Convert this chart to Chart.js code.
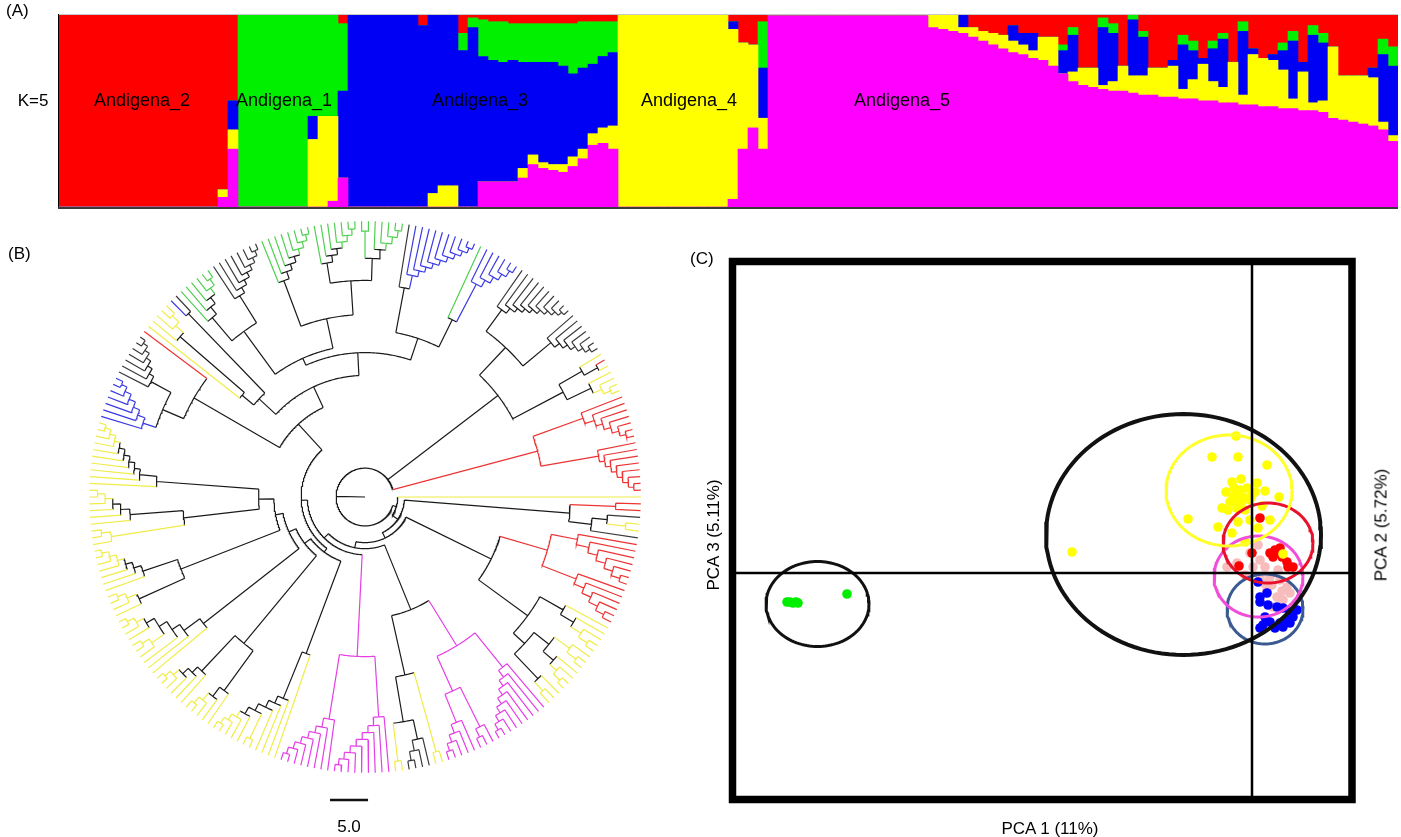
<!DOCTYPE html>
<html>
<head>
<meta charset="utf-8">
<script src="https://cdn.jsdelivr.net/npm/chart.js@4.4.1/dist/chart.umd.min.js"></script>
<style>
  body { margin: 0; background: #fff; }
  #page { position: relative; width: 1401px; height: 837px; overflow: hidden; background: #fff;
          font-family: "Liberation Sans", Arial, sans-serif; color: #000; }
  canvas { position: absolute; }
  .txt { position: absolute; font-size: 17px; line-height: 1; white-space: nowrap; }
  .grp { font-size: 18px; }
  .mid { transform: translate(-50%, -50%); }
  .rot { transform: translate(-50%, -50%) rotate(-90deg); }
</style>
</head>
<body>
<div id="page">
  <canvas id="structure" width="1401" height="215" style="left:0;top:0"></canvas>
  <canvas id="tree" width="700" height="622" style="left:0;top:215px"></canvas>
  <canvas id="pca" width="711" height="597" style="left:690px;top:240px"></canvas>

  <div class="txt" style="left:6px;top:2px">(A)</div>
  <div class="txt mid" style="left:33px;top:100px">K=5</div>
  <div class="txt" style="left:8px;top:245px">(B)</div>
  <div class="txt mid" style="left:349px;top:826px">5.0</div>
  <div class="txt" style="left:690px;top:250px">(C)</div>
  <div class="txt mid" style="left:1050px;top:828px">PCA 1 (11%)</div>
  <div class="txt rot" style="left:713px;top:535px">PCA 3 (5.11%)</div>
  <div class="txt rot" style="left:1381px;top:525px">PCA 2 (5.72%)</div>
</div>

<script>
// ---------- (A) admixture proportions, K=5, one bar per individual block ----------
// stacking order bottom -> top: magenta, yellow, blue, green, red
const structMagenta = [
  0,0,0,0,0,0,0,0,0,0,0,0,0,0,0,0,0.05,0.30,
  0,0,0,0,0,0,0,0,0,0.03,0.15,
  0,0,0,0,0,0,0, 0,0,0,0,0,0, 0.13,0.13,0.13,0.13,0.15,0.22,0.20,0.19,0.18,0.21,0.25,0.32,0.33,0.30,
  0,0,0,0,0,0,0,0,0,0,0,0.04,0.30,0.41,0.30,
  0.99,0.99,0.99,0.99,0.99,0.99,0.99,0.99,0.99,0.99,0.99,0.99,0.99,0.99,0.99,0.99,
  0.93,0.92,0.91,0.90,0.88,0.86,0.84,0.82,0.80,0.79,0.77,0.76,0.73,0.69,0.65,0.63,0.62,0.61,0.60,0.60,
  0.59,0.58,0.58,0.57,0.57,0.56,0.56,0.55,0.55,0.54,0.54,0.53,0.53,0.52,0.52,0.51,0.51,0.50,0.50,0.49,
  0.46,0.45,0.44,0.43,0.42,0.40,0.34
];
const structYellow = [
  0,0,0,0,0,0,0,0,0,0,0,0,0,0,0,0,0.04,0.10,
  0,0,0,0,0,0,0,0.35,0.47,0.44,0,
  0,0,0,0,0,0,0, 0,0.07,0.11,0.11,0,0, 0,0,0,0,0.05,0.05,0.03,0.03,0.04,0.05,0.05,0.06,0.08,0.12,
  1,1,1,1,1,1,1,1,1,1,1,0.88,0.55,0.43,0.16,
  0,0,0,0,0,0,0,0,0,0,0,0,0,0,0,0,
  0.07,0.08,0.09,0.03,0.05,0.05,0.06,0.07,0.06,0.05,0.04,0.12,0.15,0,0.05,0.09,0.10,0.02,0.05,0.13,
  0.09,0.10,0.14,0.15,0.16,0.05,0.10,0.19,0.10,0.08,0.21,0.05,0.26,0.25,0.24,0.20,0.05,0.20,0.04,0.06,
  0.37,0.23,0.24,0.25,0.25,0.04,0.03
];
const structBlue = [
  0,0,0,0,0,0,0,0,0,0,0,0,0,0,0,0,0,0.15,
  0,0,0,0,0,0,0,0.12,0,0,0.45,
  1,1,1,1,1,1,1, 0.94,0.93,0.89,0.89,0.81,0.93, 0.65,0.63,0.62,0.63,0.55,0.48,0.52,0.53,0.51,0.43,0.42,0.36,0.37,0.38,
  0,0,0,0,0,0,0,0,0,0,0,0.04,0,0,0.26,
  0,0,0,0,0,0,0,0,0,0,0,0,0,0,0,0,
  0,0,0,0.07,0,0,0,0,0.08,0.06,0.09,0,0,0.12,0.19,0,0,0.30,0.25,0,
  0.29,0.20,0,0,0.03,0.23,0.15,0.03,0.17,0.25,0,0.33,0.03,0,0.03,0.10,0.30,0.05,0.35,0.30,
  0,0,0,0,0.05,0.35,0.36
];
const structGreen = [
  0,0,0,0,0,0,0,0,0,0,0,0,0,0,0,0,0,0,
  1,1,1,1,1,1,1,0.53,0.53,0.53,0.35,
  0,0,0,0,0,0,0, 0,0,0,0,0.09,0.05, 0.19,0.20,0.21,0.19,0.20,0.20,0.20,0.20,0.22,0.26,0.24,0.22,0.18,0.16,
  0,0,0,0,0,0,0,0,0,0,0,0,0,0,0.24,
  0,0,0,0,0,0,0,0,0,0,0,0,0,0,0,0,
  0,0,0,0,0,0,0,0,0,0,0,0,0,0.03,0.04,0,0,0.05,0.05,0,
  0.03,0.03,0,0,0,0.05,0.05,0,0.04,0.03,0,0.05,0,0,0,0.04,0.05,0,0.05,0.05,
  0,0,0,0,0,0.08,0.10
];
const structRed = [
  1,1,1,1,1,1,1,1,1,1,1,1,1,1,1,1,0.91,0.45,
  0,0,0,0,0,0,0,0,0,0,0.05,
  0,0,0,0,0,0,0, 0.06,0,0,0,0.10,0.02, 0.03,0.04,0.04,0.05,0.05,0.05,0.05,0.05,0.05,0.05,0.04,0.04,0.04,0.04,
  0,0,0,0,0,0,0,0,0,0,0,0.04,0.15,0.16,0.04,
  0.01,0.01,0.01,0.01,0.01,0.01,0.01,0.01,0.01,0.01,0.01,0.01,0.01,0.01,0.01,0.01,
  0,0,0,0,0.07,0.09,0.10,0.11,0.06,0.10,0.10,0.12,0.12,0.16,0.07,0.28,0.28,0.02,0.05,0.27,
  0,0.09,0.28,0.28,0.24,0.11,0.14,0.23,0.14,0.10,0.25,0.04,0.18,0.23,0.21,0.15,0.09,0.25,0.06,0.10,
  0.17,0.32,0.32,0.32,0.28,0.13,0.17
];
const groupNames = ['Andigena_2', 'Andigena_1', 'Andigena_3', 'Andigena_4', 'Andigena_5'];
const groupCentreBar = [7.9, 22.1, 41.7, 62.6, 83.9];

// ---------- (B) neighbour-joining tree, leaf letters = cluster colour, numbers = node depth ----------
const tipDepth = 36.3;
const scaleBarLength = 5.0;
const cladeSR = '((r,r)33,((k,(y,y)34.5)32,k)30)27';
const cladeLRred = '((r,(r,(r,(r,(r,(r,r)35.2)34)32.8)31.5)30.2)28.5,(r,(r,(r,(r,(r,r)35)33.8)32.5)31.2)29.8)25';
const cladeLRyel = '((y,(y,(y,(y,y)35)33.6)32)30,(((y,(y,y)35)33.5,(y,(y,(y,y)35.2)34)32.8)31,(y,(y,y)34.6)33)28.5)26.5';
const cladeM1 = '(((m,(m,(m,(m,(m,(m,(m,(m,m)35.3)34.4)33.5)32.6)31.7)30.8)29.9)28.8,((m,(m,m)35)33.8,(m,(m,(m,(m,m)35.2)34.2)33.2)32)28)23,((y,y)34.8,((k,(k,(k,k)35.2)34)32.6,(y,y)35)30)24)16';
const cladeM2 = '((m,(m,(m,(m,(m,(m,(m,(m,m)35.4)34.6)33.7)32.8)31.9)31)30.1)29,(m,(m,(m,(m,(m,(m,(m,m)35.3)34.4)33.5)32.6)31.7)30.8)29.6)21';
const cladeA1 = '(y,(y,(y,(y,((y,y)35.2,(y,(y,(y,(y,y)35.3)34.4)33.5)32.6)31.6)30.6)29.6)28.6)22';
const cladeA2 = '((y,(y,(y,(y,y)35.2)34.2)33)31.5,(y,(y,(y,(y,(y,y)35.3)34.4)33.4)32.4)31.4)25';
const cladeA3 = '(y,(y,(y,((y,(y,y)35.1)34,(y,(y,(y,y)35.3)34.3)33.2)32)30.8)29.6)27';
const cladeA4 = '((y,(y,(y,y)35.1)34)32.6,(y,(y,(y,(y,(y,(y,y)35.4)34.5)33.6)32.7)31.8)30.8)26';
const cladeA5 = '((y,(y,y)35)33.8,(y,(y,(y,(y,(y,y)35.2)34.2)33.2)32.2)31)24';
const cladeA6 = '(y,(y,(y,(y,(y,(y,(y,(y,(y,y)35.4)34.6)33.8)33)32.2)31.4)30.6)29.8)27.5';
const cladeU1 = '(((b,(b,(b,(b,(b,(b,b)35.3)34.5)33.6)32.7)31.8)30.8,(k,(k,(k,(k,(k,(k,k)35.5)34.8)34.1)33.4)32.7)32)29,r)26';
const cladeU2 = '((y,(y,(y,(y,y)34.8)33.6)32.2)21,(b,k)33.5)19';
const cladeU3a = '((g,(g,(g,(g,(g,g)35.2)34.2)33.2)32.2)31,(k,(k,(k,(k,(k,(k,(k,k)35.5)34.8)34.1)33.4)32.7)32)31.2)27';
const cladeU3b = '((g,(g,(g,(g,(g,(g,(g,g)35.4)34.6)33.8)33)32.2)31.4)30.4,((g,(g,(g,(g,(g,(g,g)35.3)34.5)33.7)32.9)32.1)31.2,((g,g)35,(g,(g,(g,(g,g)35.3)34.4)33.5)32.6)31.4)28.5)24';
const cladeU4 = '((k,(b,(b,(b,(b,(b,(b,(b,(b,(b,b)35.5)34.8)34.1)33.4)32.7)32)31.3)30.6)29.8)28,(g,(b,(b,(b,(b,(b,b)35.3)34.4)33.5)32.6)31.6)26)22';
const cladeURgrey = '((k,(k,(k,(k,(k,(k,(k,(k,(k,k)35.5)34.9)34.3)33.7)33.1)32.5)31.9)31.3)30.5,(k,(k,(k,(k,(k,(k,k)35.4)34.7)34)33.3)32.6)31.8)27';
const cladeURyel = '((y,(r,y)35)33,(y,(y,(y,y)35.2)34.2)33)29.5';
const cladeR1 = '((r,(r,(r,(r,(r,(r,r)35.3)34.5)33.6)32.7)31.8)30.5,(r,(r,(r,(r,(r,(r,(r,r)35.4)34.7)34)33.3)32.6)31.9)31.2)23.5';

const cladeLR = `(${cladeLRred},${cladeLRyel})18.5`;
const cladeYleft = `(${cladeA1},(${cladeA2},(${cladeA3},(${cladeA4},(${cladeA5},${cladeA6})14)12)11)10)9`;
const cladeU3 = `(${cladeU3a},${cladeU3b})20`;
const cladeU = `(${cladeU1},(${cladeU2},(${cladeU3},${cladeU4})19)16)13`;
const cladeUR = `(${cladeURgrey},${cladeURyel})22`;
const backbone = `(y,(${cladeSR},(${cladeLR},(${cladeM1},(${cladeM2},(${cladeYleft},${cladeU})8.4)7.6)6.8)6)5.2)4.3`;
const treeNewick = `(${backbone},${cladeUR},${cladeR1})3.8`;

// ---------- (C) PCA scores (PCA 1 vs PCA 3) ----------
const pcaYellow = [[-0.32,2.74],[-0.80,2.32],[-0.28,2.32],[0.30,2.16],[-0.40,1.82],[0.10,1.80],[0.26,1.64],
  [0.54,1.52],[-0.24,1.66],[-0.38,1.52],[-0.18,1.52],[-0.44,1.42],[-0.60,1.30],[-0.28,1.40],[-0.04,1.46],
  [0.06,1.62],[-1.28,1.08],[-0.68,0.92],[-0.28,1.02],[-0.04,1.06],[0.12,0.90],[0.36,1.06],[-0.40,0.80],
  [-0.14,0.62],[0.62,0.38],[-3.60,0.42],[-0.32,1.58],[-0.48,1.26],[-0.14,1.26],[-0.52,1.62],[-0.36,1.70],
  [0.20,1.34],[-0.20,1.44],[-0.10,1.70],[0.00,1.56],[-0.30,1.30],[-0.22,1.88]];
const pcaRed = [[0.16,1.10],[0.00,0.40],[0.46,0.46],[0.52,0.42],[0.60,0.32],[0.70,0.22],[0.82,0.12],
  [0.72,0.12],[0.42,0.32],[0.36,0.40],[0.56,0.50],[-0.26,0.14]];
const pcaPink = [[-0.50,0.12],[-0.30,0.20],[0.16,0.26],[0.26,0.12],[0.16,-0.08],[0.36,-0.08],[0.56,-0.14],
  [0.70,-0.28],[0.30,-0.34],[0.50,-0.48],[0.62,-0.54],[0.42,-0.68],[0.76,-0.40],[-0.04,0.40],[0.02,0.12],
  [0.52,0.06],[0.12,0.56],[-0.14,-0.04],[0.40,-0.24],[0.24,-0.20],[0.60,-0.36]];
const pcaBlue = [[0.12,-0.18],[0.16,-0.48],[0.30,-0.40],[0.16,-0.58],[0.32,-0.64],[0.50,-0.68],[0.62,-0.70],
  [0.76,-0.78],[0.90,-0.74],[0.82,-0.88],[0.70,-0.94],[0.56,-1.00],[0.36,-0.98],[0.22,-1.04],[0.16,-1.10],
  [0.46,-1.10],[0.62,-1.08],[0.76,-1.00],[0.26,-0.88]];
const pcaGreen = [[-9.30,-0.58],[-9.24,-0.58],[-9.18,-0.60],[-9.12,-0.58],[-9.08,-0.60],[-8.10,-0.42]];
// confidence ellipses: centre and semi-axes in PCA units
const ellipseX  = [-8.69, -1.37, -0.46, 0.32, 0.13, 0.26];
const ellipseY  = [-0.62, 0.77, 1.65, 0.60, -0.07, -0.72];
const ellipseRx = [1.03, 2.75, 1.26, 0.90, 0.89, 0.76];
const ellipseRy = [0.85, 2.41, 1.11, 0.80, 0.81, 0.70];
const pcaXRange = [-10.39, 2.0];
const pcaYRange = [-4.53, 6.23];

// =====================================================================
// (A) structure bar plot
const structLabels = structRed.map((v, i) => i + 1);
const structFrame = {
  id: 'structFrame',
  afterDatasetsDraw(chart) {
    const { ctx, chartArea: { left, right, top, bottom } } = chart;
    ctx.save();
    ctx.strokeStyle = '#c8c8c8';
    ctx.lineWidth = 1;
    ctx.beginPath(); ctx.moveTo(left, top + 0.5); ctx.lineTo(right, top + 0.5); ctx.stroke();
    ctx.strokeStyle = '#000';
    ctx.beginPath(); ctx.moveTo(left + 0.5, top); ctx.lineTo(left + 0.5, bottom + 1); ctx.stroke();
    ctx.strokeStyle = '#3a3a3a';
    ctx.lineWidth = 2;
    ctx.beginPath(); ctx.moveTo(left, bottom + 1); ctx.lineTo(right, bottom + 1); ctx.stroke();
    ctx.restore();
  }
};
const structChart = new Chart(document.getElementById('structure'), {
  type: 'bar',
  data: {
    labels: structLabels,
    datasets: [
      { label: 'cluster 5', data: structMagenta, backgroundColor: '#ff00ff' },
      { label: 'cluster 4', data: structYellow, backgroundColor: '#ffff00' },
      { label: 'cluster 3', data: structBlue, backgroundColor: '#0000f5' },
      { label: 'cluster 1', data: structGreen, backgroundColor: '#00f000' },
      { label: 'cluster 2', data: structRed, backgroundColor: '#ff0000' },
    ]
  },
  options: {
    responsive: false,
    animation: false,
    events: [],
    layout: { padding: { left: 58, right: 3, top: 14, bottom: 8 } },
    datasets: { bar: { barPercentage: 1, categoryPercentage: 1, borderWidth: 0 } },
    scales: {
      x: { stacked: true, display: false },
      y: { stacked: true, display: false, min: 0, max: 1 }
    },
    plugins: { legend: { display: false }, tooltip: { enabled: false } }
  },
  plugins: [structFrame]
});
// group names, placed on the bar scale
groupNames.forEach((name, i) => {
  const div = document.createElement('div');
  div.className = 'txt grp mid';
  div.textContent = name;
  div.style.left = structChart.scales.x.getPixelForValue(groupCentreBar[i]) + 'px';
  div.style.top = '100px';
  document.getElementById('page').appendChild(div);
});

// =====================================================================
// (B) circular tree
function parseNewick(str) {
  let pos = 0;
  function readNode() {
    if (str[pos] === '(') {
      pos++;
      const kids = [readNode()];
      while (str[pos] === ',') { pos++; kids.push(readNode()); }
      pos++; // ')'
      const start = pos;
      while (pos < str.length && /[0-9.]/.test(str[pos])) pos++;
      return { kids, depth: parseFloat(str.slice(start, pos)) };
    }
    return { leaf: str[pos++] };
  }
  return readNode();
}

const treeRoot = parseNewick(treeNewick);
const leafTotal = (function count(n) { return n.leaf ? 1 : n.kids.reduce((s, k) => s + count(k), 0); })(treeRoot);
let leafNo = 0;
(function place(n) {
  if (n.leaf) { n.angle = leafNo++ * 360 / leafTotal; n.depth = tipDepth; n.col = n.leaf; return; }
  n.kids.forEach(place);
  n.angle = (n.kids[0].angle + n.kids[n.kids.length - 1].angle) / 2;
  const c = n.kids[0].col;
  n.col = n.kids.every(k => k.col === c) ? c : 'x';
})(treeRoot);

// inner branches keep the clade colour for red / magenta / blue clades and for tip cherries
const colouredInner = ['r', 'm', 'b'];
function lineKey(n) {
  if (n.leaf) return n.leaf;
  if (n.col === 'x') return 'x';
  return (colouredInner.includes(n.col) || n.depth >= 33.5) ? n.col : 'x';
}
function polar(r, deg) {
  const a = deg * Math.PI / 180;
  return { x: r * Math.cos(a), y: -r * Math.sin(a) };
}
const gap = { x: NaN, y: NaN };
function addRadial(list, r0, r1, deg) { list.push(polar(r0, deg), polar(r1, deg), gap); }
function addArc(list, r, a0, a1) {
  const n = Math.max(2, Math.ceil((a1 - a0) / 0.5));
  for (let i = 0; i <= n; i++) list.push(polar(r, a0 + (a1 - a0) * i / n));
  list.push(gap);
}

const treeLines = { r: [], g: [], b: [], m: [], y: [], k: [], x: [] };
(function drawNode(n) {
  if (n.leaf) return;
  addArc(treeLines[lineKey(n)], n.depth, n.kids[0].angle, n.kids[n.kids.length - 1].angle);
  n.kids.forEach(k => { addRadial(treeLines[lineKey(k)], n.depth, k.depth, k.angle); drawNode(k); });
})(treeRoot);
addRadial(treeLines.x, 0, treeRoot.depth, treeRoot.angle);

const treeColours = { r: '#ec3434', g: '#4fcf4f', b: '#3b3be4', m: '#e63ee6', y: '#f0ec48', k: '#3a3a3a', x: '#1a1a1a' };
const treeOrder = ['r', 'g', 'b', 'm', 'y', 'k', 'x'];
const treeSets = treeOrder.map(key => ({
  data: treeLines[key], showLine: true, borderColor: treeColours[key], borderWidth: 1.2,
  pointRadius: 0, spanGaps: false, tension: 0
}));
treeSets.push({
  data: [{ x: -4.6, y: -39.87 }, { x: -4.6 + scaleBarLength, y: -39.87 }],
  showLine: true, borderColor: '#111', borderWidth: 2.5, pointRadius: 0
});

new Chart(document.getElementById('tree'), {
  type: 'scatter',
  data: { datasets: treeSets },
  options: {
    responsive: false,
    animation: false,
    events: [],
    layout: { padding: 0 },
    scales: {
      x: { type: 'linear', display: false, min: -48.03, max: 44.08 },
      y: { type: 'linear', display: false, min: -44.74, max: 37.11 }
    },
    plugins: { legend: { display: false }, tooltip: { enabled: false } }
  }
});

// =====================================================================
// (C) PCA
function ellipsePoints(i) {
  const pts = [];
  for (let d = 0; d <= 360; d += 3) {
    const a = d * Math.PI / 180;
    pts.push({ x: ellipseX[i] + ellipseRx[i] * Math.cos(a), y: ellipseY[i] + ellipseRy[i] * Math.sin(a) });
  }
  return pts;
}
const ellipseColour = ['#111', '#111', '#ffff2a', '#e8102a', '#f04ed8', '#3c5a92'];
const ellipseWidth = [3, 4, 3, 3, 3, 3];
const toXY = arr => arr.map(p => ({ x: p[0], y: p[1] }));

const pcaSets = [
  { data: [{ x: pcaXRange[0], y: 0 }, { x: pcaXRange[1], y: 0 }], showLine: true, borderColor: '#000', borderWidth: 2.5, pointRadius: 0 },
  { data: [{ x: 0, y: pcaYRange[0] }, { x: 0, y: pcaYRange[1] }], showLine: true, borderColor: '#000', borderWidth: 2.5, pointRadius: 0 }
];
ellipseX.forEach((v, i) => pcaSets.push({
  data: ellipsePoints(i), showLine: true, borderColor: ellipseColour[i], borderWidth: ellipseWidth[i], pointRadius: 0, tension: 0
}));
const pointStyle = (data, colour) => ({ data: toXY(data), backgroundColor: colour, borderWidth: 0, pointRadius: 4.8 });
pcaSets.push(pointStyle(pcaYellow, '#ffff00'));
pcaSets.push(pointStyle(pcaBlue, '#0000ff'));
pcaSets.push(pointStyle(pcaRed, '#ff0000'));
pcaSets.push(pointStyle(pcaPink, '#f7bcbc'));
pcaSets.push(pointStyle(pcaGreen, '#00ee00'));

const pcaFrame = {
  id: 'pcaFrame',
  afterDraw(chart) {
    const { ctx, chartArea: { left, right, top, bottom } } = chart;
    ctx.save();
    ctx.strokeStyle = '#000';
    ctx.lineWidth = 7.5;
    ctx.strokeRect(left, top, right - left, bottom - top);
    ctx.restore();
  }
};
new Chart(document.getElementById('pca'), {
  type: 'scatter',
  data: { datasets: pcaSets },
  options: {
    responsive: false,
    animation: false,
    events: [],
    layout: { padding: { left: 42.5, top: 21.5, right: 49, bottom: 37.5 } },
    scales: {
      x: { type: 'linear', display: false, min: pcaXRange[0], max: pcaXRange[1] },
      y: { type: 'linear', display: false, min: pcaYRange[0], max: pcaYRange[1] }
    },
    plugins: { legend: { display: false }, tooltip: { enabled: false } }
  },
  plugins: [pcaFrame]
});
</script>
</body>
</html>
